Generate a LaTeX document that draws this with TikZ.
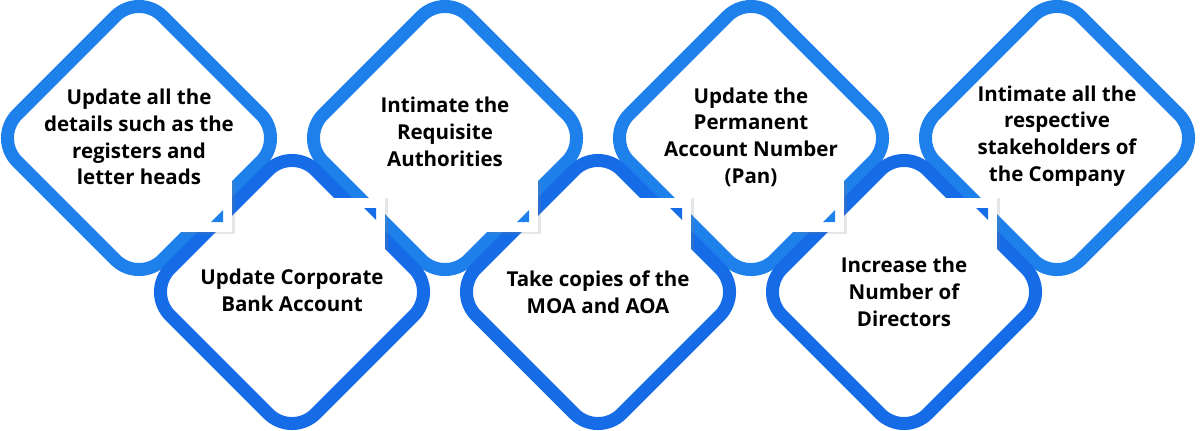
\documentclass[tikz,border=0pt]{standalone}
\usepackage{fontspec}
\setmainfont{Open Sans}
\usepackage{tikz}
\usetikzlibrary{shadows}
\definecolor{topblue}{HTML}{1E80EA}
\definecolor{lowblue}{HTML}{166BE6}

\begin{document}
\begin{tikzpicture}[x=1pt,y=-1pt,
    box/.style={draw=#1,line width=13pt,rounded corners=33.5pt},
    fold/.style={fill=white,drop shadow={shadow xshift=3pt,shadow yshift=#1,opacity=0.2}},
    steptext/.style={font=\fontsize{20.5}{26.7}\selectfont\bfseries,align=center,text=black}]
        \useasboundingbox (0,0) rectangle (1200,431);
        % the diamonds, top row light, bottom row dark
        \foreach \x/\y/\c in {139/138/topblue,445/138/topblue,751/138/topblue,1057/138/topblue,
                              292/292/lowblue,598/292/lowblue,904/292/lowblue}
            \draw[box=\c] (\x,\y-145.4) -- (\x+145.4,\y) -- (\x,\y+145.4) -- (\x-145.4,\y) -- cycle;
        % folded corners
        \foreach \x in {139,445,751} {
            \fill[fold=-1.5pt] (\x+41,138+42) rectangle (\x+93,138+94);
            \fill[topblue] (\x+84,138+72) -- (\x+84,138+84) -- (\x+72,138+84) -- cycle;
        }
        \foreach \x in {292,598,904} {
            \fill[fold=0.5pt] (\x+41,292-94) rectangle (\x+93,292-42);
            \fill[lowblue] (\x+72,292-84) -- (\x+84,292-84) -- (\x+84,292-72) -- cycle;
        }
        \node[steptext] (regs) at (139,137) {Update all the\\details such as the\\registers and\\letter heads};
        \node[steptext] (auth) at (445,132) {Intimate the\\Requisite\\Authorities};
        \node[steptext] (pan) at (751,137) {Update the\\Permanent\\Account Number\\(Pan)};
        \node[steptext] (stake) at (1057,136) {Intimate all the\\respective\\stakeholders of\\the Company};
        \node[steptext] (bank) at (292,290) {Update Corporate\\Bank Account};
        \node[steptext] (moa) at (598,292) {Take copies of the\\MOA and AOA};
        \node[steptext] (dirs) at (904,292) {Increase the\\Number of\\Directors};
    \end{tikzpicture}
\end{document}
